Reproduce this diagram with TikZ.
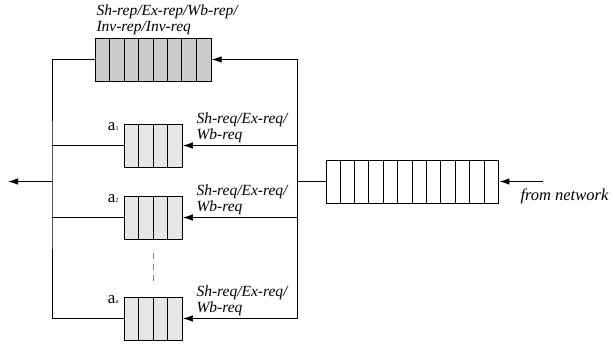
\documentclass[tikz,border=0pt]{standalone}
\usepackage{fontspec}
\setmainfont{Liberation Serif}
\usepackage{xcolor}
\usepackage{tikz}
\usetikzlibrary{arrows.meta}

\definecolor{repgray}{HTML}{CCCCCC}
\definecolor{reqgray}{HTML}{E6E6E6}

% split queue #1 into #2 equal slots
\newcommand{\queuecells}[2]{%
  \pgfmathtruncatemacro{\lastslot}{#2-1}
  \foreach \i in {1,...,\lastslot}
    \draw ([xshift=\i*14.4pt]#1.south west) -- ([xshift=\i*14.4pt]#1.north west);
}

\begin{document}
\begin{tikzpicture}[
    x=1pt, y=-1pt, % pixel-like units, y downwards
    line width=1pt,
    queue/.style={draw, rectangle, minimum height=43pt, inner sep=0pt},
    lbl/.style={font=\fontsize{15.5}{16}\selectfont\itshape, align=left, inner sep=0pt},
    tag/.style={font=\fontsize{17}{17}\selectfont, inner sep=0pt},
    edge/.style={-{Latex[length=10pt, width=6.5pt]}}
]
\useasboundingbox (0,0) rectangle (613,346);

% Queues
\node[queue, fill=repgray, minimum width=115.2pt] (repq) at (153.5, 59.5) {};
\node[queue, fill=reqgray, minimum width=57.6pt] (qa1) at (153.5, 145.5) {};
\node[queue, fill=reqgray, minimum width=57.6pt] (qa2) at (153.5, 217.5) {};
\node[queue, fill=reqgray, minimum width=57.6pt] (qan) at (153.5, 318.5) {};
\node[queue, fill=white, minimum width=172.8pt] (netq) at (412.5, 181.5) {};
\queuecells{repq}{8}
\queuecells{qa1}{4}
\queuecells{qa2}{4}
\queuecells{qan}{4}
\queuecells{netq}{12}

% Bus junctions and free ends
\coordinate (lbus) at (52, 181.5);
\coordinate (rbus) at (297, 181.5);
\coordinate (out) at (8, 181.5);
\coordinate (in) at (543, 181.5);

% Labels
\node[lbl, anchor=north west] (replbl) at (96, 4) {Sh-rep/Ex-rep/Wb-rep/\\Inv-rep/Inv-req};
\node[lbl, anchor=north west] (reqlbl1) at (196, 112) {Sh-req/Ex-req/\\Wb-req};
\node[lbl, anchor=north west] (reqlbl2) at (196, 184) {Sh-req/Ex-req/\\Wb-req};
\node[lbl, anchor=north west] (reqlbl3) at (196, 285) {Sh-req/Ex-req/\\Wb-req};
\node[lbl, font=\fontsize{16.5}{17}\selectfont\itshape, anchor=north west] (netlbl) at (520, 188) {from network};
\node[tag, anchor=east] (a1) at (119, 127) {a{\fontsize{6}{6}\selectfont 1}};
\node[tag, anchor=east] (a2) at (119, 199) {a{\fontsize{6}{6}\selectfont 2}};
\node[tag, anchor=east] (an) at (119, 300) {a{\fontsize{6}{6}\selectfont n}};

% Edges
\draw (repq.west) -| (lbus) |- (qan.west);
\draw (qa1.west) -- (qa1.west -| lbus);
\draw (qa2.west) -- (qa2.west -| lbus);
\draw[edge] (lbus) -- (out);
\draw (netq.west) -- (rbus);
\draw[edge] (rbus) |- (repq.east);
\draw[edge] (rbus) |- (qan.east);
\draw[edge] (qa1.east -| rbus) -- (qa1.east);
\draw[edge] (qa2.east -| rbus) -- (qa2.east);
\draw[edge] (in) -- (netq.east);
\draw[gray, dash pattern=on 6pt off 5pt] (qa2.south) ++(0, 13) -- ++(0, 30);

\end{tikzpicture}
\end{document}
